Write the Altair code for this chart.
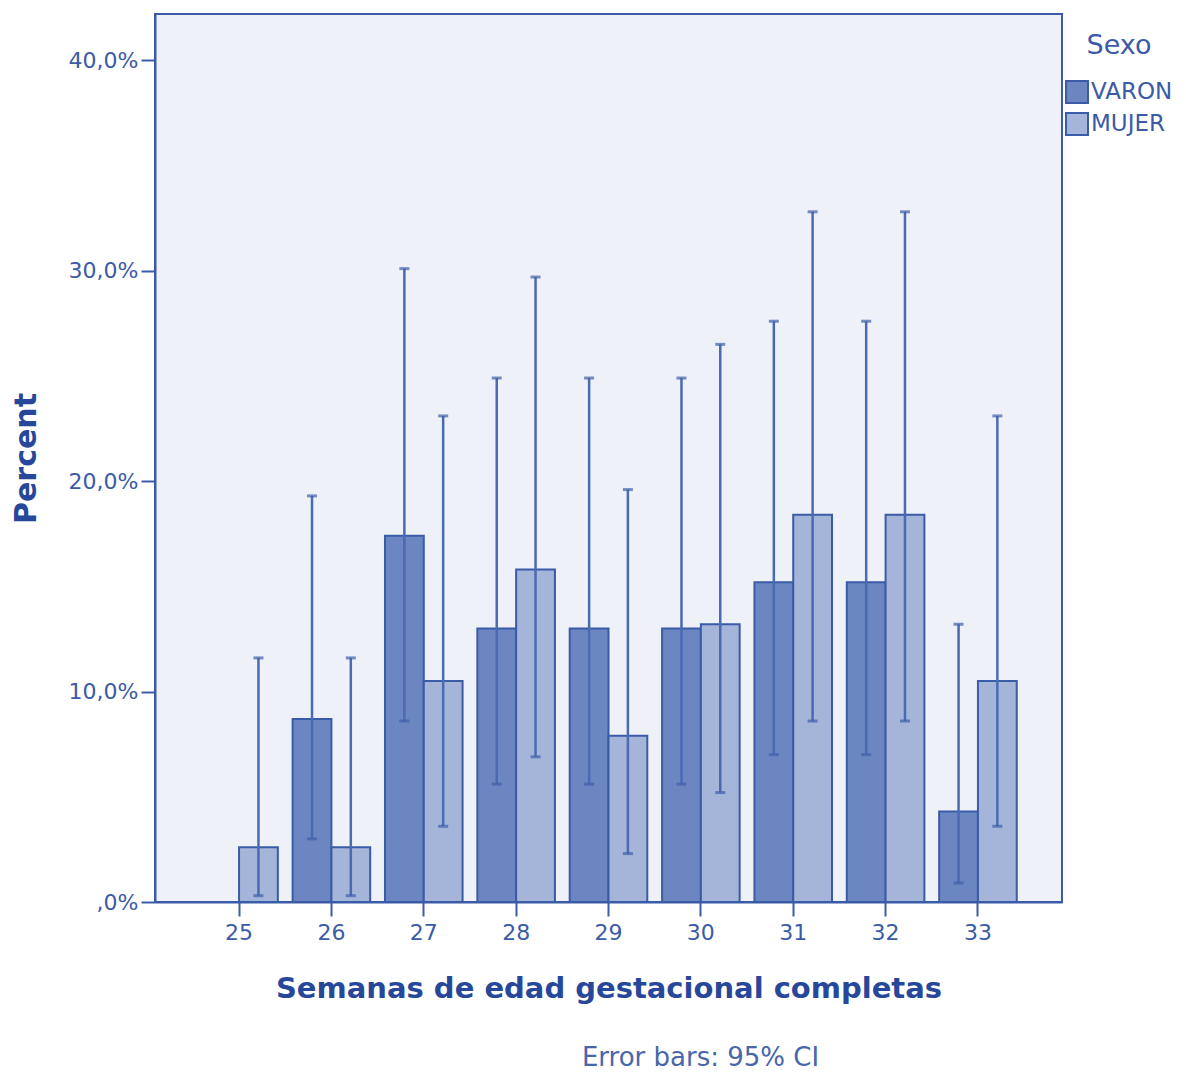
import altair as alt
import pandas as pd

# Completed gestational weeks
weeks = ["25", "26", "27", "28", "29", "30", "31", "32", "33"]

# Percent of each sex per week, with 95% CI bounds
varon_pct = [0.0, 8.7, 17.4, 13.0, 13.0, 13.0, 15.2, 15.2, 4.3]
varon_lo = [None, 3.0, 8.6, 5.6, 5.6, 5.6, 7.0, 7.0, 0.9]
varon_hi = [None, 19.3, 30.1, 24.9, 24.9, 24.9, 27.6, 27.6, 13.2]

mujer_pct = [2.6, 2.6, 10.5, 15.8, 7.9, 13.2, 18.4, 18.4, 10.5]
mujer_lo = [0.3, 0.3, 3.6, 6.9, 2.3, 5.2, 8.6, 8.6, 3.6]
mujer_hi = [11.6, 11.6, 23.1, 29.7, 19.6, 26.5, 32.8, 32.8, 23.1]

sexes = ["VARON", "MUJER"]
fills = ["#6b86c0", "#a4b5d9"]

rows = []
for sexo, pct, lo, hi in [("VARON", varon_pct, varon_lo, varon_hi),
                          ("MUJER", mujer_pct, mujer_lo, mujer_hi)]:
    for w, p, l, h in zip(weeks, pct, lo, hi):
        rows.append({"semana": w, "sexo": sexo, "pct": p, "lo": l, "hi": h})
df = pd.DataFrame(rows)

DARK = "#3a5ba6"
TEXT = "#3b5ba6"
TITLE = "#27489a"
FONT = "DejaVu Sans"

x_enc = alt.X(
    "semana:N",
    sort=weeks,
    scale=alt.Scale(paddingInner=0.16, paddingOuter=0.49),
    axis=alt.Axis(
        title="Semanas de edad gestacional completas",
        labelAngle=0,
        labelFontSize=22,
        labelColor=TEXT,
        labelFont=FONT,
        labelPadding=6,
        tickSize=14,
        tickColor=DARK,
        tickWidth=2,
        domainColor=DARK,
        domainWidth=2,
        titleFontSize=29,
        titleFont=FONT,
        titleFontWeight="bold",
        titleColor=TITLE,
        titlePadding=31,
    ),
)
off_enc = alt.XOffset("sexo:N", sort=sexes, scale=alt.Scale(paddingInner=0))
y_scale = alt.Scale(domain=[0, 42.2], nice=False, zero=True)

base = alt.Chart(df).encode(x=x_enc, xOffset=off_enc)

bars = base.mark_bar(stroke=DARK, strokeWidth=2).encode(
    y=alt.Y(
        "pct:Q",
        scale=y_scale,
        axis=alt.Axis(
            title="Percent",
            values=[0, 10, 20, 30, 40],
            labelExpr="datum.value == 0 ? ',0%' : replace(format(datum.value, '.1f'), '.', ',') + '%'",
            labelFontSize=22,
            labelColor=TEXT,
            labelFont=FONT,
            labelPadding=3,
            tickSize=14,
            tickColor=DARK,
            tickWidth=2,
            domainColor=DARK,
            domainWidth=2,
            grid=False,
            titleFontSize=30,
            titleFont=FONT,
            titleFontWeight="bold",
            titleColor=TITLE,
            titlePadding=27,
        ),
    ),
    color=alt.Color(
        "sexo:N",
        sort=sexes,
        scale=alt.Scale(domain=sexes, range=fills),
        legend=alt.Legend(
            title="Sexo",
            orient="none",
            legendX=910,
            legendY=19,
            titleFontSize=27,
            titleFontWeight="normal",
            titleColor=TEXT,
            titleFont=FONT,
            titleAnchor="middle",
            titlePadding=20,
            labelFontSize=23,
            labelColor=TEXT,
            labelFont=FONT,
            labelOffset=2,
            symbolType="square",
            symbolSize=484,
            symbolStrokeColor=DARK,
            symbolStrokeWidth=2,
            rowPadding=2,
        ),
    ),
)

ci = base.transform_filter("isValid(datum.lo)")

whiskers = ci.mark_rule(color="#4a6ab2", strokeWidth=2.5).encode(
    y=alt.Y("lo:Q", scale=y_scale),
    y2="hi:Q",
)
cap_hi = ci.mark_tick(color="#3f60aa", size=10, thickness=3, orient="horizontal").encode(
    y=alt.Y("hi:Q", scale=y_scale)
)
cap_lo = ci.mark_tick(color="#3f60aa", size=10, thickness=3, orient="horizontal").encode(
    y=alt.Y("lo:Q", scale=y_scale)
)

chart = (
    alt.layer(bars, whiskers, cap_hi, cap_lo)
    .properties(
        width=907,
        height=888,
        padding={"left": 155, "top": 14, "right": 124, "bottom": 171},
        autosize=alt.AutoSizeParams(type="none"),
        title=alt.TitleParams(
            "Error bars: 95% CI",
            orient="bottom",
            anchor="middle",
            dx=92,
            offset=42,
            fontSize=26,
            fontWeight="normal",
            font=FONT,
            color="#4a66aa",
        ),
    )
    .configure_view(fill="#eff1f8", stroke=DARK, strokeWidth=2)
)

chart.save("out.html", embed_options={"renderer": "svg", "actions": False})
